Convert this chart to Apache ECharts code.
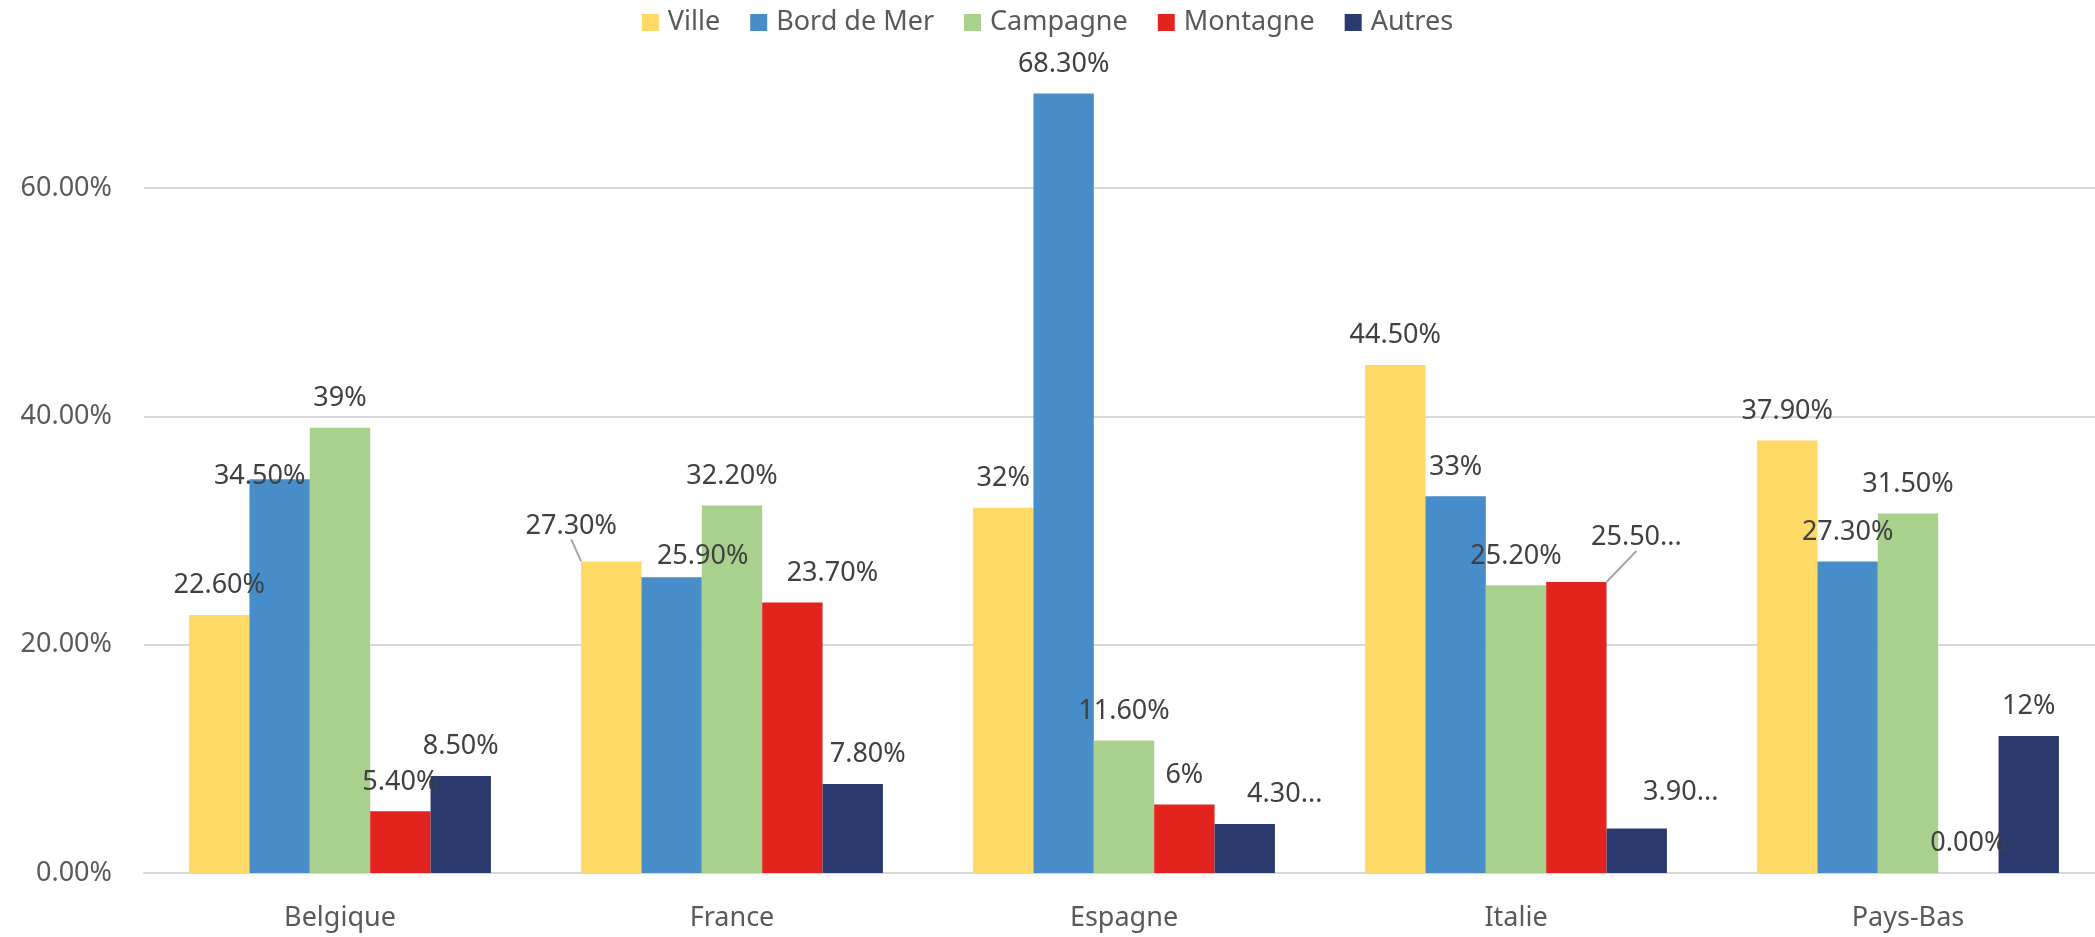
<!DOCTYPE html>
<html>
<head>
<meta charset="utf-8">
<script src="https://cdn.jsdelivr.net/npm/echarts@6/dist/echarts.min.js"></script>
<style>
  html, body { margin: 0; padding: 0; background: #fff; }
  #chart { width: 2095px; height: 937px; }
</style>
</head>
<body>
<div id="chart"></div>
<script>
// catégories et séries (valeurs en %)
const countries = ['Belgique', 'France', 'Espagne', 'Italie', 'Pays-Bas'];
const seriesNames = ['Ville', 'Bord de Mer', 'Campagne', 'Montagne', 'Autres'];
const ville = [22.6, 27.3, 32, 44.5, 37.9];
const bordDeMer = [34.5, 25.9, 68.3, 33, 27.3];
const campagne = [39, 32.2, 11.6, 25.2, 31.5];
const montagne = [5.4, 23.7, 6, 25.5, 0];
const autres = [8.5, 7.8, 4.3, 3.9, 12];

// étiquettes telles qu'affichées
const villeLabels = ['22.60%', '27.30%', '32%', '44.50%', '37.90%'];
const bordLabels = ['34.50%', '25.90%', '68.30%', '33%', '27.30%'];
const campagneLabels = ['39%', '32.20%', '11.60%', '25.20%', '31.50%'];
const montagneLabels = ['5.40%', '23.70%', '6%', '25.50...', '0.00%'];
const autresLabels = ['8.50%', '7.80%', '4.30...', '3.90...', '12%'];

const colors = ['#FFD966', '#478DC9', '#A9D18E', '#E2231E', '#2B3A6E'];

// décalages manuels des étiquettes "série-pays" -> [dx, dy]
const labelNudge = {
  '1-0': [-20, 27],
  '0-1': [-40, -6],
  '1-1': [31, 8],
  '3-1': [40, 0],
  '4-1': [15, 0],
  '4-2': [40, 0],
  '3-3': [60, -15],
  '4-3': [44, -7]
};
// étiquettes avec trait de rappel
const withLeader = ['0-1', '3-3'];

const values = [ville, bordDeMer, campagne, montagne, autres];
const labels = [villeLabels, bordLabels, campagneLabels, montagneLabels, autresLabels];

const chart = echarts.init(document.getElementById('chart'));

const series = seriesNames.map((name, s) => ({
  name: name,
  type: 'bar',
  barGap: '0%',
  barCategoryGap: '23%',
  itemStyle: { color: colors[s] },
  label: {
    show: true,
    position: 'top',
    distance: 16,
    fontFamily: 'Noto Sans',
    fontSize: 27,
    color: '#404040',
    formatter: p => labels[s][p.dataIndex]
  },
  labelLayout: p => {
    const n = labelNudge[p.seriesIndex + '-' + p.dataIndex];
    return n ? { dx: n[0], dy: n[1] } : {};
  },
  data: values[s].map((v, i) => {
    const key = s + '-' + i;
    if (withLeader.indexOf(key) >= 0) {
      return { value: v, labelLine: { show: true, lineStyle: { color: '#A6A6A6', width: 2 } } };
    }
    return v;
  })
}));

const option = {
  animation: false,
  color: colors,
  textStyle: { fontFamily: 'Noto Sans' },
  legend: {
    top: 4,
    left: 'center',
    icon: 'rect',
    itemWidth: 17,
    itemHeight: 17,
    itemGap: 30,
    textStyle: { fontSize: 27, color: '#595959', padding: [0, 0, 0, 4] },
    data: seriesNames
  },
  grid: { left: 144, top: 74, bottom: 64, width: 1960, outerBoundsMode: 'none' },
  xAxis: {
    type: 'category',
    data: countries,
    axisTick: { show: false },
    axisLine: { lineStyle: { color: '#D9D9D9', width: 2 } },
    axisLabel: { fontSize: 27, color: '#595959', margin: 32 }
  },
  yAxis: {
    type: 'value',
    min: 0,
    max: 70,
    interval: 20,
    axisLine: { show: false },
    axisTick: { show: false },
    axisLabel: {
      fontSize: 27,
      color: '#595959',
      margin: 32,
      showMaxLabel: false,
      formatter: v => v.toFixed(2) + '%'
    },
    splitLine: { showMaxLine: false, lineStyle: { color: '#D9D9D9', width: 2 } }
  },
  series: series
};

chart.setOption(option);
</script>
</body>
</html>
